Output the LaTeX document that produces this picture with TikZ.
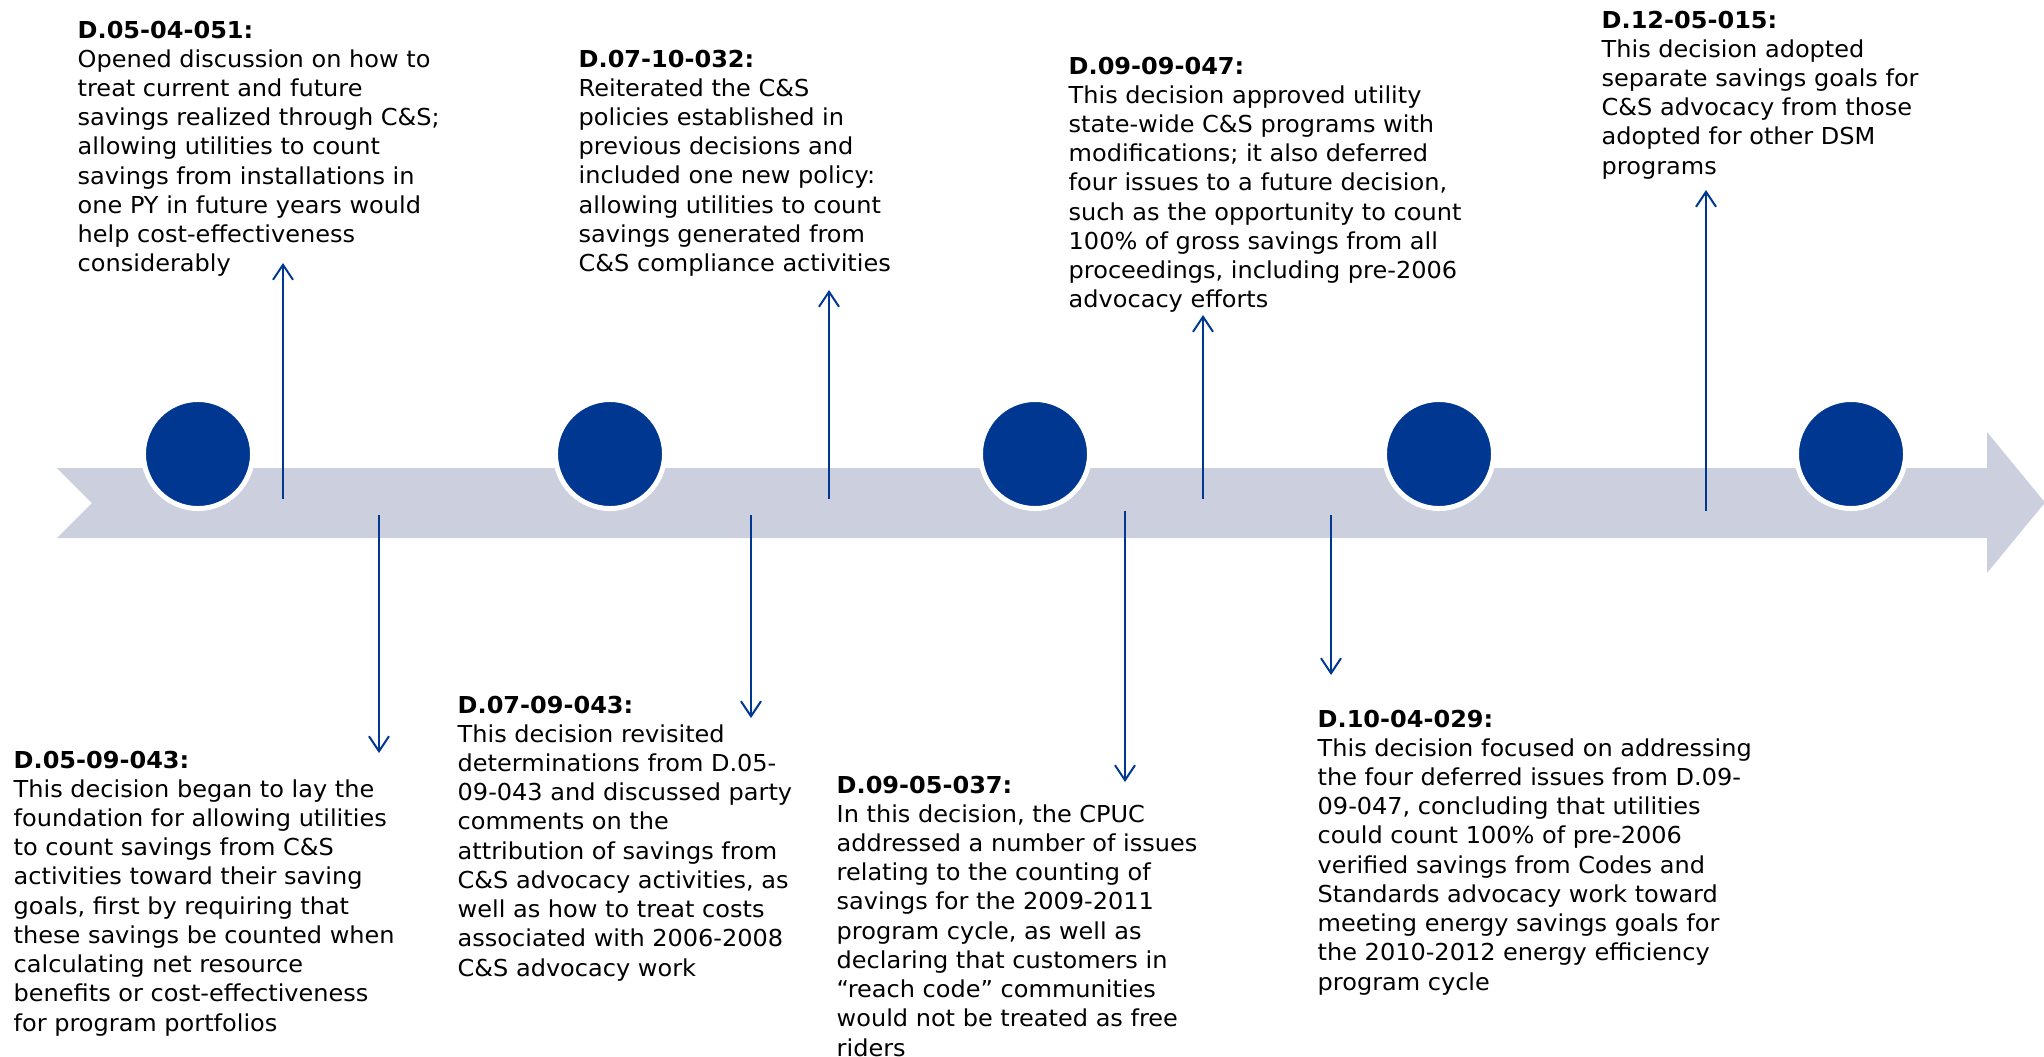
\documentclass[tikz,border=0pt]{standalone}
\usepackage{fontspec}
\setmainfont{DejaVu Sans}[FakeStretch=1.03]
\usetikzlibrary{arrows.meta}
\definecolor{cpucblue}{RGB}{0,55,145}
\definecolor{bandgray}{RGB}{203,207,222}

\begin{document}
\begin{tikzpicture}[
  x=0.01cm, y=-0.01cm,
  band/.style={fill=bandgray},
  milestone/.style={circle,fill=cpucblue,draw=white,line width=0.05cm,
    minimum size=1.09cm,inner sep=0pt},
  link/.style={cpucblue,line width=0.02cm,
    -{Straight Barb[length=0.15cm,width=0.2cm]}},
  note/.style={anchor=north west,align=left,inner sep=0pt,
    font=\fontsize{6.63pt}{8.31pt}\selectfont}]
  \useasboundingbox (0,0) rectangle (2044,1057);

% Timeline band with arrow head
  \fill[band] (57,468) -- (1987,468) -- (1987,432) -- (2045,502.5)
    -- (1987,573) -- (1987,538) -- (57,538) -- (92,503) -- cycle;

% Milestones
  \foreach \n/\x in {1/198,2/610,3/1035,4/1439,5/1851}
    \node[milestone] (m\n) at (\x,454) {};

% Connectors: name / x / start on band / tip
  \foreach \nm/\x/\ya/\yb in {d0504/283/499/263,d0509/379/515/753,
    d0709/751/515/718,d0710/829/499/290,d0905/1125/511/782,
    d0909/1203/499/315,d1004/1331/515/675,d1205/1706/511/190}{
    \coordinate (\nm s) at (\x,\ya);
    \coordinate (\nm e) at (\x,\yb);
    \draw[link] (\nm s) -- (\nm e);}

% Decisions above the band
  \node[note] (d0504) at (77,20) {\textbf{D.05-04-051:}\\
    Opened discussion on how to\\
    treat current and future\\
    savings realized through C\&S;\\
    allowing utilities to count\\
    savings from installations in\\
    one PY in future years would\\
    help cost-effectiveness\\
    considerably};
  \node[note] (d0710) at (578,49) {\textbf{D.07-10-032:}\\
    Reiterated the C\&S\\
    policies established in\\
    previous decisions and\\
    included one new policy:\\
    allowing utilities to count\\
    savings generated from\\
    C\&S compliance activities};
  \node[note] (d0909) at (1068,56) {\textbf{D.09-09-047:}\\
    This decision approved utility\\
    state-wide C\&S programs with\\
    modifications; it also deferred\\
    four issues to a future decision,\\
    such as the opportunity to count\\
    100\% of gross savings from all\\
    proceedings, including pre-2006\\
    advocacy efforts};
  \node[note] (d1205) at (1601,10) {\textbf{D.12-05-015:}\\
    This decision adopted\\
    separate savings goals for\\
    C\&S advocacy from those\\
    adopted for other DSM\\
    programs};

% Decisions below the band
  \node[note] (d0509) at (13,750) {\textbf{D.05-09-043:}\\
    This decision began to lay the\\
    foundation for allowing utilities\\
    to count savings from C\&S\\
    activities toward their saving\\
    goals, first by requiring that\\
    these savings be counted when\\
    calculating net resource\\
    benefits or cost-effectiveness\\
    for program portfolios};
  \node[note] (d0709) at (457,695) {\textbf{D.07-09-043:}\\
    This decision revisited\\
    determinations from D.05-\\
    09-043 and discussed party\\
    comments on the\\
    attribution of savings from\\
    C\&S advocacy activities, as\\
    well as how to treat costs\\
    associated with 2006-2008\\
    C\&S advocacy work};
  \node[note] (d0905) at (836,775) {\textbf{D.09-05-037:}\\
    In this decision, the CPUC\\
    addressed a number of issues\\
    relating to the counting of\\
    savings for the 2009-2011\\
    program cycle, as well as\\
    declaring that customers in\\
    “reach code” communities\\
    would not be treated as free\\
    riders};
  \node[note] (d1004) at (1317,709) {\textbf{D.10-04-029:}\\
    This decision focused on addressing\\
    the four deferred issues from D.09-\\
    09-047, concluding that utilities\\
    could count 100\% of pre-2006\\
    verified savings from Codes and\\
    Standards advocacy work toward\\
    meeting energy savings goals for\\
    the 2010-2012 energy efficiency\\
    program cycle};
\end{tikzpicture}
\end{document}
